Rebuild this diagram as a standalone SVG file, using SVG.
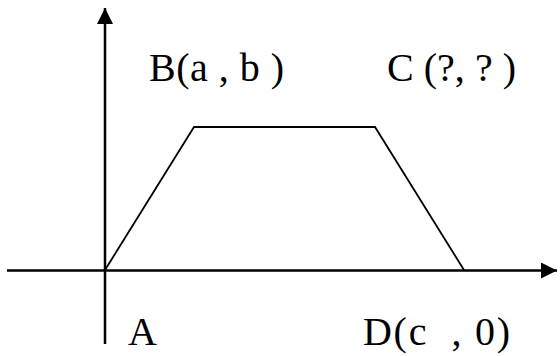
<svg xmlns="http://www.w3.org/2000/svg" width="560" height="356" viewBox="0 0 560 356">
<style>
.ax{stroke:#000;stroke-width:2.5;fill:none}
.tr{stroke:#000;stroke-width:1.8;fill:none;stroke-linejoin:miter}
text{font-family:"Liberation Serif","Times New Roman",serif;font-size:40px;fill:#000;white-space:pre}
</style>
<defs>
<marker id="ah" viewBox="0 0 16 16" refX="16" refY="8" markerWidth="16" markerHeight="16" markerUnits="userSpaceOnUse" orient="auto">
<path d="M0,0 L16,8 L0,16 Z" fill="#000"/>
</marker>
</defs>
<rect width="560" height="356" fill="#fff"/>
<g id="connectors">
<line class="ax" x1="105" y1="344" x2="105" y2="8" marker-end="url(#ah)"/>
<line class="ax" x1="7" y1="270.5" x2="557" y2="270.5" marker-end="url(#ah)"/>
<polyline class="tr" points="105,270 194,127 375,127 464,270"/>
</g>
<g id="B"><text x="149" y="81" xml:space="preserve" textLength="135" lengthAdjust="spacing">B(a , b )</text></g>
<g id="C"><text x="387" y="81" xml:space="preserve" textLength="129" lengthAdjust="spacing">C (?, ? )</text></g>
<g id="A"><text x="128" y="345">A</text></g>
<g id="D"><text x="363" y="345" xml:space="preserve" textLength="147" lengthAdjust="spacing">D(c  , 0)</text></g>
</svg>
